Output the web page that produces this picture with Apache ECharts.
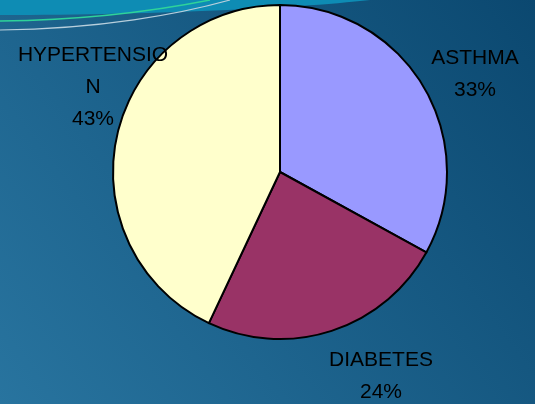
<!DOCTYPE html>
<html><head><meta charset="utf-8">
<script src="https://cdn.jsdelivr.net/npm/echarts@6/dist/echarts.min.js"></script>
<style>html,body{margin:0;padding:0;}#c{width:535px;height:404px;}</style>
</head><body><div id="c"></div>
<script>
const categories = ['ASTHMA', 'DIABETES', 'HYPERTENSION'];
const labelTexts = ['ASTHMA', 'DIABETES', 'HYPERTENSIO\nN'];
const values = [33, 24, 43];
const colors = ['#9999FF', '#993366', '#FFFFCC'];
const labelPos = [[475, 74], [381, 376], [93, 87]];

// decorative band at top (background ornament)
function bez(p0, p1, p2, p3, n) {
  const pts = [];
  for (let i = 0; i <= n; i++) {
    const t = i / n, u = 1 - t;
    pts.push([
      u*u*u*p0[0] + 3*u*u*t*p1[0] + 3*u*t*t*p2[0] + t*t*t*p3[0],
      u*u*u*p0[1] + 3*u*u*t*p1[1] + 3*u*t*t*p2[1] + t*t*t*p3[1]
    ]);
  }
  return pts;
}
const bandPts = [[0, 0]].concat(bez([0, 15], [150, 15], [300, 8], [370, 0], 30));

const chart = echarts.init(document.getElementById('c'));
chart.setOption({
  backgroundColor: {
    type: 'linear', x: 0, y: 1, x2: 1, y2: 0,
    colorStops: [
      {offset: 0, color: '#28749f'},
      {offset: 1, color: '#0b4870'}
    ]
  },
  animation: false,
  graphic: [
    {type: 'polygon', z: -10, shape: {points: bandPts}, style: {fill: '#0e8cb4'}},
    {type: 'bezierCurve', z: -9, shape: {x1: 0, y1: 21, x2: 210, y2: 0, cpx1: 90, cpy1: 20, cpx2: 160, cpy2: 10}, style: {stroke: '#2fd39a', lineWidth: 1.5, fill: null}},
    {type: 'bezierCurve', z: -9, shape: {x1: 0, y1: 30, x2: 230, y2: 0, cpx1: 100, cpy1: 29, cpx2: 180, cpy2: 14}, style: {stroke: '#b8cfdc', lineWidth: 1.2, fill: null}}
  ],
  series: [{
    type: 'pie',
    center: [280, 172],
    radius: 167,
    startAngle: 90,
    clockwise: true,
    data: categories.map((c, i) => ({name: c, value: values[i], itemStyle: {color: colors[i]}})),
    itemStyle: {borderColor: '#000', borderWidth: 2},
    labelLine: {show: false},
    label: {
      show: true,
      position: 'outside',
      overflow: 'none',
      formatter: p => labelTexts[p.dataIndex] + '\n' + Math.round(p.percent) + '%',
      fontFamily: '"Liberation Sans", Arial, sans-serif',
      fontSize: 21,
      lineHeight: 32,
      color: '#000',
      align: 'center'
    },
    labelLayout: p => ({x: labelPos[p.dataIndex][0], y: labelPos[p.dataIndex][1], align: 'center', verticalAlign: 'middle'})
  }]
});
</script></body></html>
